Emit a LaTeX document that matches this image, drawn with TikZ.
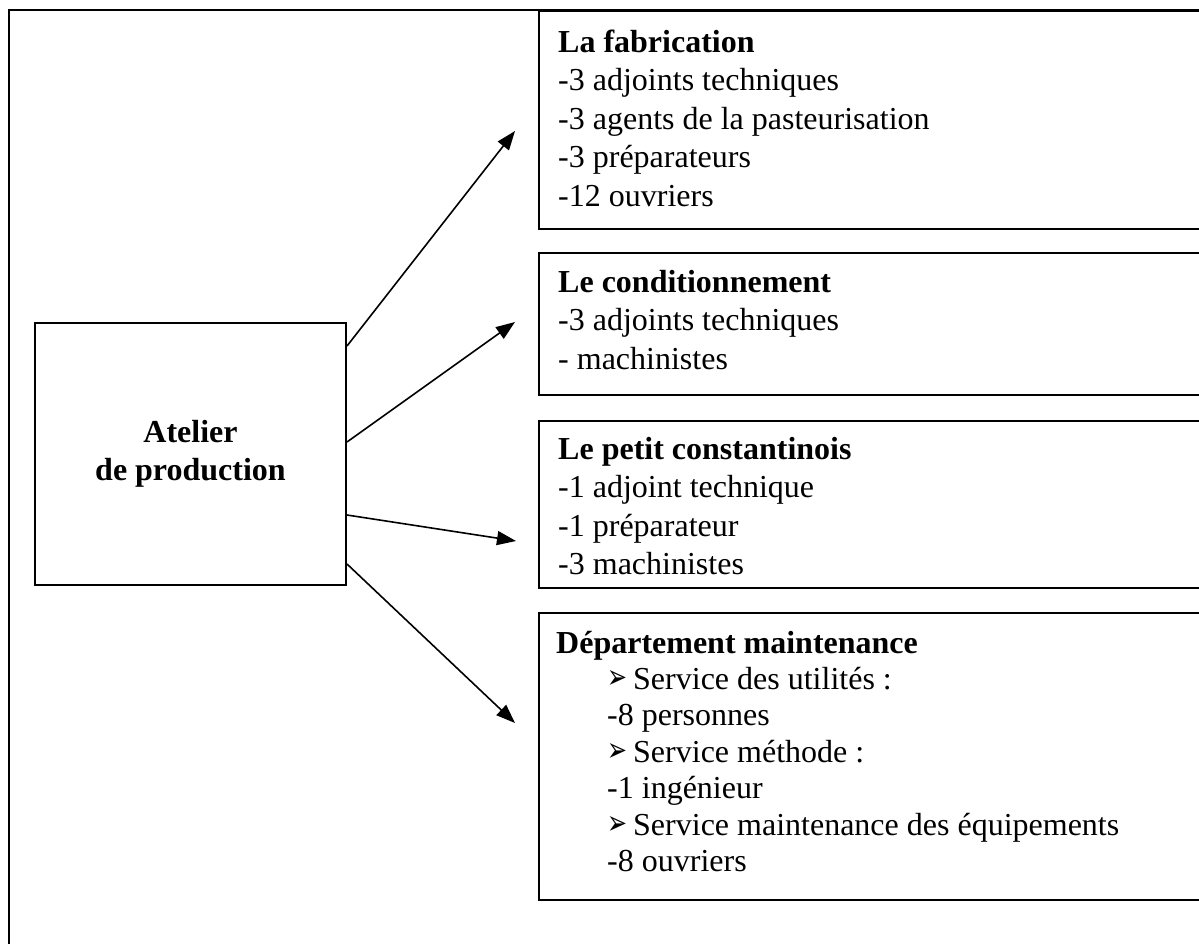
\documentclass[tikz,border=0pt]{standalone}
\usepackage{fontspec}
\usepackage{graphicx}
\setmainfont{Liberation Serif}
\newfontfamily\bulfont{DejaVu Sans}
\usetikzlibrary{arrows.meta}
\newcommand{\bul}{\makebox[26pt][l]{\raisebox{0.5pt}{\resizebox{20pt}{18pt}{\bulfont ➢}}}}
\begin{document}
\begin{tikzpicture}[x=1pt,y=-1pt,
  frame/.style={draw, line width=2.6pt},
  box/.style={draw, line width=2pt, rectangle, anchor=north west, inner sep=0pt, minimum width=700pt},
  txt/.style={anchor=base west, inner sep=0pt, font=\fontsize{32}{38.5}\selectfont},
  link/.style={line width=1.6pt, -{Triangle[length=19pt,width=14pt]}}]
\useasboundingbox (0,0) rectangle (1199,943);
\clip (0,0) rectangle (1199,943);
\draw[frame] (9,10) rectangle (1240,990);
% boxes on the right
\node[box, minimum height=218pt] (b1) at (538,10) {};
\node[box, minimum height=142pt] (b2) at (538,252) {};
\node[box, minimum height=167pt] (b3) at (538,420) {};
\node[box, minimum height=287pt] (b4) at (538,612) {};
% left box
\node[draw, line width=2pt, rectangle, inner sep=0pt, minimum width=311pt, minimum height=262pt,
      align=center, font=\fontsize{32}{38}\selectfont\bfseries] (atelier) at (190.5,454) {Atelier\\de production};
% texts
\node[txt] (t1) at (558,52) {\vtop{%
  \hbox{\bfseries La fabrication}
  \hbox{-3 adjoints techniques}
  \hbox{-3 agents de la pasteurisation}
  \hbox{-3 préparateurs}
  \hbox{-12 ouvriers}}};
\node[txt] (t2) at (558,292) {\vtop{%
  \hbox{\bfseries Le conditionnement}
  \hbox{-3 adjoints techniques}
  \hbox{- machinistes}}};
\node[txt] (t3) at (558,459) {\vtop{%
  \hbox{\bfseries Le petit constantinois}
  \hbox{-1 adjoint technique}
  \hbox{-1 préparateur}
  \hbox{-3 machinistes}}};
\node[txt, font=\fontsize{32}{36.4}\selectfont] (t4) at (556,653) {\vtop{%
  \hbox{\bfseries Département maintenance}
  \hbox{\hspace*{51pt}\bul Service des utilités :}
  \hbox{\hspace*{51pt}-8 personnes}
  \hbox{\hspace*{51pt}\bul Service méthode :}
  \hbox{\hspace*{51pt}-1 ingénieur}
  \hbox{\hspace*{51pt}\bul Service maintenance des équipements}
  \hbox{\hspace*{51pt}-8 ouvriers}}};
% arrows
\coordinate (e1) at (515,131);
\coordinate (e2) at (515,322);
\coordinate (e3) at (516,541);
\coordinate (e4) at (515,723);
\draw[link] ([yshift=-24pt]atelier.north east) -- (e1);
\draw[link] ([yshift=-120pt]atelier.north east) -- (e2);
\draw[link] ([yshift=-193pt]atelier.north east) -- (e3);
\draw[link] ([yshift=-242pt]atelier.north east) -- (e4);
\end{tikzpicture}
\end{document}
